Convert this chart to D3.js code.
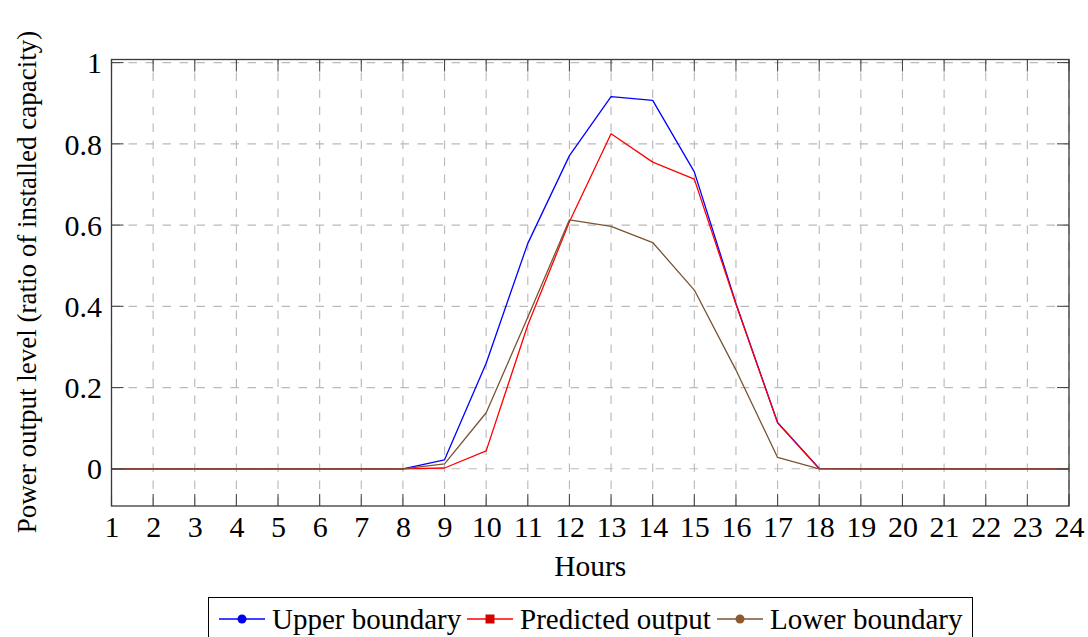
<!DOCTYPE html>
<html>
<head>
<meta charset="utf-8">
<script src="https://cdn.jsdelivr.net/npm/d3@7"></script>
<style>
  body { margin: 0; background: #fff; }
  text { font-family: "Liberation Serif", "DejaVu Serif", serif; fill: #000; }
</style>
</head>
<body>
<svg id="chart"></svg>
<script>
// hours of the day and the three output curves (share of installed capacity)
const hours = d3.range(1, 25);
const upper = [0, 0, 0, 0, 0, 0, 0, 0, 0.022, 0.26, 0.555, 0.771, 0.916, 0.907, 0.731, 0.407, 0.114, 0.001, 0, 0, 0, 0, 0, 0];
const predicted = [0, 0, 0, 0, 0, 0, 0, 0, 0.002, 0.044, 0.354, 0.608, 0.825, 0.755, 0.713, 0.405, 0.113, 0, 0, 0, 0, 0, 0, 0];
const lower = [0, 0, 0, 0, 0, 0, 0, 0, 0.012, 0.138, 0.373, 0.613, 0.597, 0.557, 0.44, 0.243, 0.028, 0, 0, 0, 0, 0, 0, 0];
const yTicks = [0, 0.2, 0.4, 0.6, 0.8, 1];

const series = [
    { name: "Upper boundary", values: upper, color: "#0000ff", marker: "circle", mark: "#0000ee" },
    { name: "Predicted output", values: predicted, color: "#ff0000", marker: "square", mark: "#d40000" },
    { name: "Lower boundary", values: lower, color: "#785434", marker: "circle", mark: "#8a5a30" }
];

const width = 1088, height = 637;
const margins = { top: 59.5, right: 19, bottom: 131, left: 111.5 };
const graphWidth = width - margins.left - margins.right;
const graphHeight = height - margins.top - margins.bottom;

const svg = d3.select("#chart")
    .attr("width", width)
    .attr("height", height);

const graph = svg.append("g")
    .attr("transform", `translate(${margins.left}, ${margins.top})`);

const x = d3.scaleLinear().domain([1, 24]).range([0, graphWidth]);
// 10% padding around the data range, like the usual pgfplots limits
const yMax = d3.max(upper);
const y = d3.scaleLinear().domain([-0.1 * yMax, 1.1 * yMax]).range([graphHeight, 0]);

// dashed grid
const gridStyle = sel => sel
    .attr("stroke", "#bababa")
    .attr("stroke-width", 1.15)
    .attr("stroke-dasharray", "8.5,8.5");

graph.append("g").selectAll("line")
    .data(hours)
    .join("line")
    .attr("x1", d => x(d)).attr("x2", d => x(d))
    .attr("y1", graphHeight).attr("y2", 0)
    .call(gridStyle);

graph.append("g").selectAll("line")
    .data(yTicks)
    .join("line")
    .attr("x1", 0).attr("x2", graphWidth)
    .attr("y1", d => y(d)).attr("y2", d => y(d))
    .call(gridStyle);

// curves
const line = d3.line()
    .x((d, i) => x(hours[i]))
    .y(d => y(d));

series.forEach(s => {
    graph.append("path")
        .datum(s.values)
        .attr("fill", "none")
        .attr("stroke", s.color)
        .attr("stroke-width", 1.3)
        .attr("stroke-linejoin", "round")
        .attr("d", line);
});

// axes: bottom and left carry the labels, top and right only mirror the ticks
const xAxis = d3.axisBottom(x).tickValues(hours).tickFormat(d3.format("d")).tickSize(0).tickPadding(10);
const yAxis = d3.axisLeft(y).tickValues(yTicks).tickFormat(d => d).tickSize(0).tickPadding(9.5);

const xAxisGroup = graph.append("g")
    .attr("transform", `translate(0, ${graphHeight})`)
    .call(xAxis);
const yAxisGroup = graph.append("g").call(yAxis);

[xAxisGroup, yAxisGroup].forEach(g => {
    g.select(".domain").remove();
    g.selectAll("text")
        .style("font-family", "'Liberation Serif', serif")
        .style("font-size", "30px")
        .attr("fill", "#000");
});
xAxisGroup.selectAll("text").attr("dy", "0.71em");
yAxisGroup.selectAll("text").attr("dy", "0.34em");

// tick marks on all four sides
const tickLen = 12;
const ticks = graph.append("g").attr("stroke", "#4a4a4a").attr("stroke-width", 1.1);
hours.forEach(h => {
    ticks.append("line").attr("x1", x(h)).attr("x2", x(h)).attr("y1", graphHeight).attr("y2", graphHeight - tickLen);
    ticks.append("line").attr("x1", x(h)).attr("x2", x(h)).attr("y1", 0).attr("y2", tickLen);
});
yTicks.forEach(t => {
    ticks.append("line").attr("x1", 0).attr("x2", tickLen).attr("y1", y(t)).attr("y2", y(t));
    ticks.append("line").attr("x1", graphWidth).attr("x2", graphWidth - tickLen).attr("y1", y(t)).attr("y2", y(t));
});

graph.append("rect")
    .attr("width", graphWidth)
    .attr("height", graphHeight)
    .attr("fill", "none")
    .attr("stroke", "#3a3a3a")
    .attr("stroke-width", 1.3);

// axis titles
svg.append("text")
    .attr("x", margins.left + graphWidth / 2)
    .attr("y", 576)
    .attr("text-anchor", "middle")
    .style("font-size", "29.5px")
    .text("Hours");

svg.append("text")
    .attr("transform", "translate(36, 282) rotate(-90)")
    .attr("text-anchor", "middle")
    .style("font-size", "27px")
    .text("Power output level (ratio of installed capacity)");

// legend
const legend = svg.append("g");
legend.append("rect")
    .attr("x", 208.5).attr("y", 597.5)
    .attr("width", 764).attr("height", 40)
    .attr("fill", "#fff")
    .attr("stroke", "#000")
    .attr("stroke-width", 1);

const legendX = [219, 467, 717];
series.forEach((s, i) => {
    const g = legend.append("g").attr("transform", `translate(${legendX[i]}, 619)`);
    g.append("line")
        .attr("x1", 0).attr("x2", 46)
        .attr("stroke", s.color).attr("stroke-width", 1.3);
    if (s.marker === "circle") {
        g.append("circle").attr("cx", 23).attr("r", 4.5).attr("fill", s.mark);
    } else {
        g.append("rect").attr("x", 18.5).attr("y", -4.5).attr("width", 9).attr("height", 9).attr("fill", s.mark);
    }
    g.append("text")
        .attr("x", 53)
        .attr("dy", "0.34em")
        .style("font-size", "29px")
        .text(s.name);
});
</script>
</body>
</html>
